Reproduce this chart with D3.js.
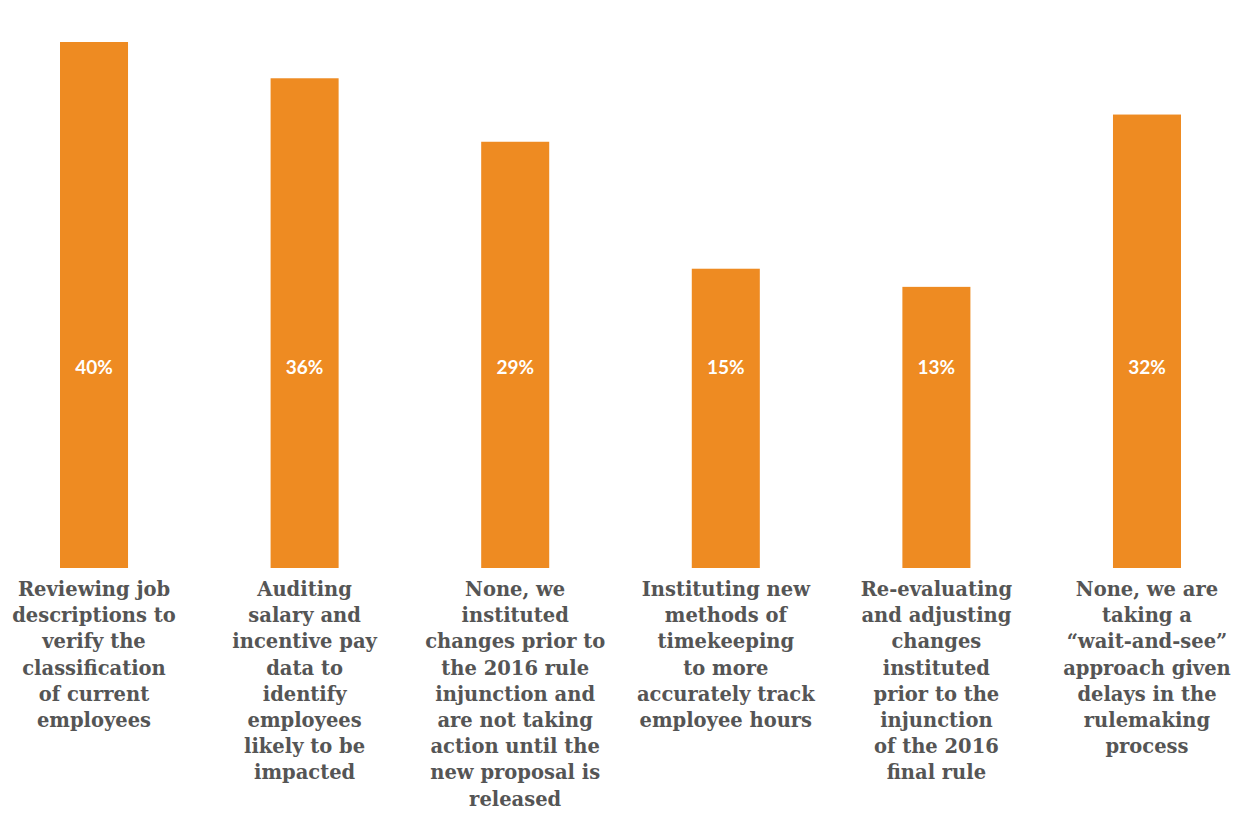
<!DOCTYPE html>
<html>
<head>
<meta charset="utf-8">
<script src="https://cdn.jsdelivr.net/npm/d3@7"></script>
<style>
  html, body { margin: 0; padding: 0; background: #fff; }
  svg { display: block; }
</style>
</head>
<body>
<svg id="chart" width="1235" height="813"></svg>
<script>
// Survey responses: actions taken ahead of the new overtime rule
const categories = [
  "Reviewing job\ndescriptions to\nverify the\nclassification\nof current\nemployees",
  "Auditing\nsalary and\nincentive pay\ndata to\nidentify\nemployees\nlikely to be\nimpacted",
  "None, we\ninstituted\nchanges prior to\nthe 2016 rule\ninjunction and\nare not taking\naction until the\nnew proposal is\nreleased",
  "Instituting new\nmethods of\ntimekeeping\nto more\naccurately track\nemployee hours",
  "Re-evaluating\nand adjusting\nchanges\ninstituted\nprior to the\ninjunction\nof the 2016\nfinal rule",
  "None, we are\ntaking a\n\u201cwait-and-see\u201d\napproach given\ndelays in the\nrulemaking\nprocess"
];
const values = [40, 36, 29, 15, 13, 32];

const svg = d3.select("#chart");
const baselineY = 568;
const plotTop = 42;

const x = d3.scaleBand()
  .domain(d3.range(categories.length))
  .range([60, 1181])
  .paddingInner(0.677)
  .paddingOuter(0);

// Value axis starts below zero so shorter bars keep a visible body
const y = d3.scaleLinear().domain([-18, 40]).range([baselineY, plotTop]);

const orange = "#EE8B22";

svg.selectAll("rect.bar")
  .data(values)
  .join("rect")
  .attr("class", "bar")
  .attr("x", (d, i) => x(i))
  .attr("width", x.bandwidth())
  .attr("y", d => y(d))
  .attr("height", d => baselineY - y(d))
  .attr("fill", orange);

svg.selectAll("text.val")
  .data(values)
  .join("text")
  .attr("class", "val")
  .attr("x", (d, i) => x(i) + x.bandwidth() / 2)
  .attr("y", 374)
  .attr("text-anchor", "middle")
  .attr("fill", "#fff")
  .style("font-family", "Lato, 'Open Sans', sans-serif")
  .style("font-weight", 700)
  .style("font-size", "19px")
  .text(d => d + "%");

const lineH = 26.2;
const labels = svg.selectAll("text.cat")
  .data(categories)
  .join("text")
  .attr("class", "cat")
  .attr("x", (d, i) => x(i) + x.bandwidth() / 2)
  .attr("y", 596)
  .attr("text-anchor", "middle")
  .attr("fill", "#555555")
  .style("font-family", "'DejaVu Serif', serif")
  .style("font-weight", 700)
  .style("font-size", "19.5px");

labels.each(function(d, i) {
  const t = d3.select(this);
  d.split("\n").forEach((line, k) => {
    t.append("tspan")
      .attr("x", x(i) + x.bandwidth() / 2)
      .attr("dy", k === 0 ? 0 : lineH)
      .text(line);
  });
});
</script>
</body>
</html>
